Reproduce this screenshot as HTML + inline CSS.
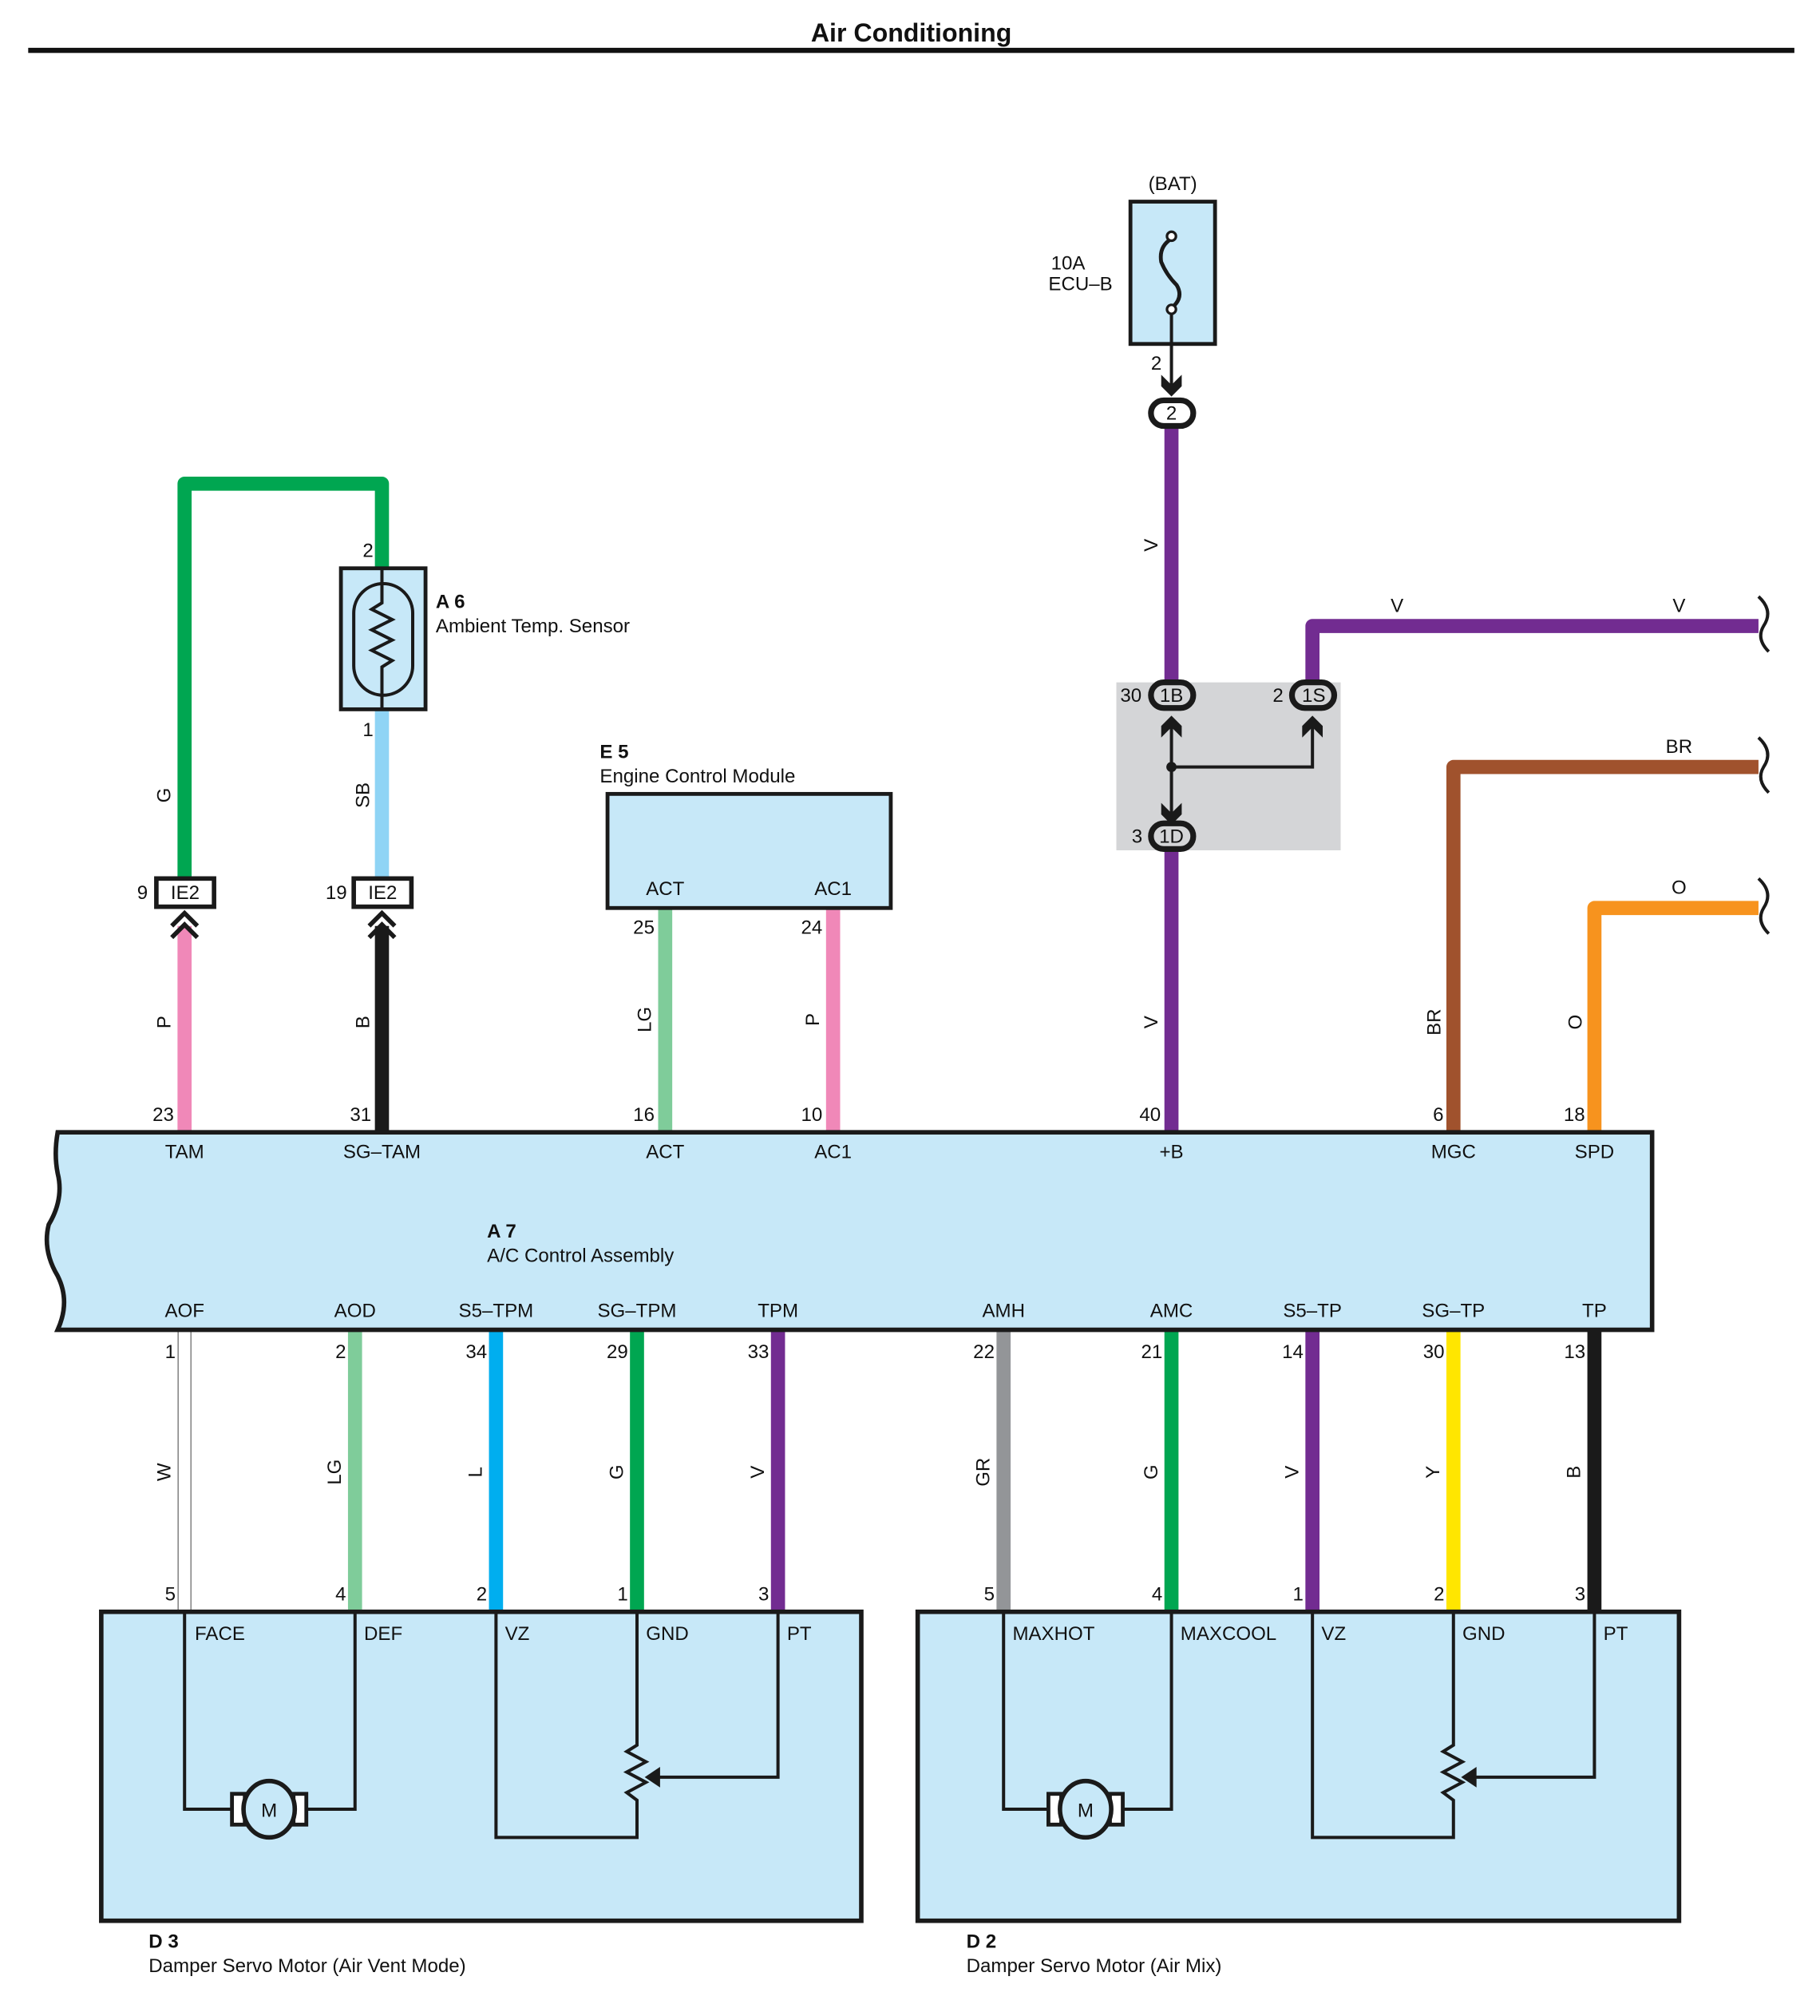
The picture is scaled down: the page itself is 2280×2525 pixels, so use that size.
<!DOCTYPE html>
<html><head><meta charset="utf-8"><style>
html,body{margin:0;padding:0;background:#fff}
svg{display:block}
text{font-family:"Liberation Sans",sans-serif;font-size:15px;fill:#111}
.b{font-weight:bold}
</style></head><body>
<svg width="2280" height="2525" viewBox="0 0 1420 1572" xmlns="http://www.w3.org/2000/svg">
<text x="711" y="32" text-anchor="middle" class="b" style="font-size:20px">Air Conditioning</text>
<rect x="22" y="37" width="1378" height="4" fill="#111"/>

<!-- upper left wires -->
<path d="M144 688 V377 H298 V443" fill="none" stroke="#00a651" stroke-width="11" stroke-linejoin="round"/>
<line x1="298" y1="553" x2="298" y2="688" stroke="#8fd4f5" stroke-width="11"/>
<line x1="144" y1="722" x2="144" y2="884" stroke="#f088b8" stroke-width="11"/>
<line x1="298" y1="722" x2="298" y2="884" stroke="#1a1a1a" stroke-width="11"/>
<!-- sensor -->
<rect x="266" y="443" width="66" height="110" fill="#c7e8f8" stroke="#1a1a1a" stroke-width="3"/>
<rect x="276" y="455" width="46" height="87" rx="23" fill="none" stroke="#1a1a1a" stroke-width="2.5"/>
<path d="M298 443 V470 L290 475 L306 483 L290 491 L306 499 L290 507 L306 515 L298 520 V553" fill="none" stroke="#1a1a1a" stroke-width="2.5"/>
<text x="283" y="434">2</text><text x="283" y="574">1</text>
<text x="340" y="474" class="b">A 6</text><text x="340" y="493">Ambient Temp.  Sensor</text>
<!-- IE2 connectors -->
<rect x="122" y="685" width="45" height="22" fill="#fff" stroke="#1a1a1a" stroke-width="3.5"/>
<text x="144.5" y="701" text-anchor="middle">IE2</text><text x="107" y="701">9</text>
<rect x="276" y="685" width="45" height="22" fill="#fff" stroke="#1a1a1a" stroke-width="3.5"/>
<text x="298.5" y="701" text-anchor="middle">IE2</text><text x="254" y="701">19</text>
<path d="M134 722 L144 712 L154 722 M134 731 L144 721 L154 731" fill="none" stroke="#1a1a1a" stroke-width="3.5"/>
<path d="M288 722 L298 712 L308 722 M288 731 L298 721 L308 731" fill="none" stroke="#1a1a1a" stroke-width="3.5"/>
<g text-anchor="middle">
<text transform="translate(133,620) rotate(-90)">G</text>
<text transform="translate(288,620) rotate(-90)">SB</text>
<text transform="translate(133,797) rotate(-90)">P</text>
<text transform="translate(288,797) rotate(-90)">B</text>
</g>
<text x="119" y="874">23</text><text x="273" y="874">31</text>

<!-- ECM -->
<line x1="519" y1="708" x2="519" y2="884" stroke="#7fcc9a" stroke-width="11"/>
<line x1="650" y1="708" x2="650" y2="884" stroke="#f088b8" stroke-width="11"/>
<rect x="474" y="619" width="221" height="89" fill="#c7e8f8" stroke="#1a1a1a" stroke-width="3"/>
<text x="468" y="591" class="b">E 5</text><text x="468" y="610">Engine Control Module</text>
<text x="519" y="698" text-anchor="middle">ACT</text><text x="650" y="698" text-anchor="middle">AC1</text>
<text x="494" y="728">25</text><text x="625" y="728">24</text>
<text x="494" y="874">16</text><text x="625" y="874">10</text>
<text transform="translate(508,795) rotate(-90)" text-anchor="middle">LG</text>
<text transform="translate(639,795) rotate(-90)" text-anchor="middle">P</text>

<!-- BAT -->
<rect x="871" y="532" width="175" height="131" fill="#d4d5d7"/>
<line x1="914" y1="332" x2="914" y2="532" stroke="#722c91" stroke-width="11"/>
<line x1="914" y1="662" x2="914" y2="884" stroke="#722c91" stroke-width="11"/>
<path d="M1024 532 V488 H1372" fill="none" stroke="#722c91" stroke-width="11" stroke-linejoin="round"/>
<path d="M1134 884 V598 H1372" fill="none" stroke="#a0522d" stroke-width="11" stroke-linejoin="round"/>
<path d="M1244 884 V708 H1372" fill="none" stroke="#f7931e" stroke-width="11" stroke-linejoin="round"/>
<g fill="none" stroke="#1a1a1a" stroke-width="2.5">
<path d="M1372 465 Q1384 476 1376 488 Q1370 498 1380 508"/>
<path d="M1372 575 Q1384 586 1376 598 Q1370 608 1380 618"/>
<path d="M1372 685 Q1384 696 1376 708 Q1370 718 1380 728"/>
</g>
<rect x="882" y="157" width="66" height="111" fill="#c7e8f8" stroke="#1a1a1a" stroke-width="3"/>
<path d="M914 186 Q904 192 906 204 Q910 214 918 222 Q924 232 914 240" fill="none" stroke="#1a1a1a" stroke-width="3"/>
<circle cx="914" cy="184" r="3.5" fill="#fff" stroke="#1a1a1a" stroke-width="2"/>
<circle cx="914" cy="241" r="3.5" fill="#fff" stroke="#1a1a1a" stroke-width="2"/>
<line x1="914" y1="244" x2="914" y2="300" stroke="#1a1a1a" stroke-width="2.5"/>
<path d="M906 292 L914 300 L922 292 L922 301 L914 309 L906 301Z" fill="#1a1a1a"/>
<text x="915" y="148" text-anchor="middle">(BAT)</text>
<text x="820" y="210">10A</text><text x="818" y="226">ECU–B</text>
<text x="898" y="288">2</text>
<g stroke="#1a1a1a" stroke-width="4.5" fill="#fff">
<rect x="898" y="312" width="33" height="20" rx="10"/>
</g>
<text x="914" y="327" text-anchor="middle">2</text>
<g stroke="#1a1a1a" stroke-width="4.5" fill="#d4d5d7">
<rect x="898" y="532" width="33" height="20" rx="10"/>
<rect x="1008" y="532" width="33" height="20" rx="10"/>
<rect x="898" y="642" width="33" height="20" rx="10"/>
</g>
<text x="914" y="547" text-anchor="middle">1B</text>
<text x="1025" y="547" text-anchor="middle">1S</text>
<text x="914" y="657" text-anchor="middle">1D</text>
<text x="874" y="547">30</text><text x="993" y="547">2</text><text x="883" y="657">3</text>
<path d="M914 565 V634 M914 598 H1024 V565" fill="none" stroke="#1a1a1a" stroke-width="2.5"/>
<circle cx="914" cy="598" r="4" fill="#1a1a1a"/>
<path d="M906 566 L914 558 L922 566 L922 575 L914 567 L906 575Z" fill="#1a1a1a"/>
<path d="M1016 566 L1024 558 L1032 566 L1032 575 L1024 567 L1016 575Z" fill="#1a1a1a"/>
<path d="M906 626 L914 634 L922 626 L922 635 L914 643 L906 635Z" fill="#1a1a1a"/>
<text x="1090" y="477" text-anchor="middle">V</text><text x="1310" y="477" text-anchor="middle">V</text>
<text x="1310" y="587" text-anchor="middle">BR</text><text x="1310" y="697" text-anchor="middle">O</text>
<g text-anchor="middle">
<text transform="translate(903,425) rotate(-90)">V</text>
<text transform="translate(903,797) rotate(-90)">V</text>
<text transform="translate(1124,797) rotate(-90)">BR</text>
<text transform="translate(1234,797) rotate(-90)">O</text>
</g>
<text x="889" y="874">40</text><text x="1118" y="874">6</text><text x="1220" y="874">18</text>

<!-- lower wires -->
<line x1="144" y1="1037" x2="144" y2="1258" stroke="#888" stroke-width="11"/>
<line x1="144" y1="1037" x2="144" y2="1258" stroke="#fff" stroke-width="9"/>
<line x1="277" y1="1037" x2="277" y2="1258" stroke="#7fcc9a" stroke-width="11"/>
<line x1="387" y1="1037" x2="387" y2="1258" stroke="#00aeef" stroke-width="11"/>
<line x1="497" y1="1037" x2="497" y2="1258" stroke="#00a651" stroke-width="11"/>
<line x1="607" y1="1037" x2="607" y2="1258" stroke="#722c91" stroke-width="11"/>
<line x1="783" y1="1037" x2="783" y2="1258" stroke="#939598" stroke-width="11"/>
<line x1="914" y1="1037" x2="914" y2="1258" stroke="#00a651" stroke-width="11"/>
<line x1="1024" y1="1037" x2="1024" y2="1258" stroke="#722c91" stroke-width="11"/>
<line x1="1134" y1="1037" x2="1134" y2="1258" stroke="#ffe600" stroke-width="11"/>
<line x1="1244" y1="1037" x2="1244" y2="1258" stroke="#1a1a1a" stroke-width="11"/>
<g text-anchor="end">
<text x="137" y="1059">1</text><text x="270" y="1059">2</text><text x="380" y="1059">34</text><text x="490" y="1059">29</text><text x="600" y="1059">33</text>
<text x="776" y="1059">22</text><text x="907" y="1059">21</text><text x="1017" y="1059">14</text><text x="1127" y="1059">30</text><text x="1237" y="1059">13</text>
<text x="137" y="1248">5</text><text x="270" y="1248">4</text><text x="380" y="1248">2</text><text x="490" y="1248">1</text><text x="600" y="1248">3</text>
<text x="776" y="1248">5</text><text x="907" y="1248">4</text><text x="1017" y="1248">1</text><text x="1127" y="1248">2</text><text x="1237" y="1248">3</text>
</g>
<g text-anchor="middle">
<text transform="translate(133,1148) rotate(-90)">W</text>
<text transform="translate(266,1148) rotate(-90)">LG</text>
<text transform="translate(376,1148) rotate(-90)">L</text>
<text transform="translate(486,1148) rotate(-90)">G</text>
<text transform="translate(596,1148) rotate(-90)">V</text>
<text transform="translate(772,1148) rotate(-90)">GR</text>
<text transform="translate(903,1148) rotate(-90)">G</text>
<text transform="translate(1013,1148) rotate(-90)">V</text>
<text transform="translate(1123,1148) rotate(-90)">Y</text>
<text transform="translate(1233,1148) rotate(-90)">B</text>
</g>

<!-- A7 -->
<path d="M45 883 H1289 V1037 H45 Q55 1015 45 995 Q33 975 38 955 Q50 935 45 915 Q42 900 45 883Z" fill="#c7e8f8" stroke="#1a1a1a" stroke-width="3.5"/>
<g text-anchor="middle">
<text x="144" y="903">TAM</text><text x="298" y="903">SG–TAM</text><text x="519" y="903">ACT</text><text x="650" y="903">AC1</text>
<text x="914" y="903">+B</text><text x="1134" y="903">MGC</text><text x="1244" y="903">SPD</text>
<text x="144" y="1027">AOF</text><text x="277" y="1027">AOD</text><text x="387" y="1027">S5–TPM</text><text x="497" y="1027">SG–TPM</text><text x="607" y="1027">TPM</text>
<text x="783" y="1027">AMH</text><text x="914" y="1027">AMC</text><text x="1024" y="1027">S5–TP</text><text x="1134" y="1027">SG–TP</text><text x="1244" y="1027">TP</text>
</g>
<text x="380" y="965" class="b">A 7</text><text x="380" y="984">A/C Control Assembly</text>

<!-- servos -->
<g id="servo">
<rect x="79" y="1257" width="593" height="241" fill="#c7e8f8" stroke="#1a1a1a" stroke-width="3.5"/>
<g fill="none" stroke="#1a1a1a" stroke-width="2.5">
<path d="M144 1257 V1411 H183 M237 1411 H277 V1257"/>
<path d="M387 1257 V1433 H497 V1404 L489 1398 L504 1390 L489 1382 L504 1374 L489 1366 L497 1361 V1257"/>
<path d="M607 1257 V1386 H512"/>
</g>
<path d="M503 1386 L515 1378 L515 1394Z" fill="#1a1a1a"/>
<rect x="181" y="1399" width="10" height="24" fill="#fff" stroke="#1a1a1a" stroke-width="3"/>
<rect x="229" y="1399" width="10" height="24" fill="#fff" stroke="#1a1a1a" stroke-width="3"/>
<ellipse cx="210" cy="1411" rx="20" ry="22" fill="#c7e8f8" stroke="#1a1a1a" stroke-width="3.5"/>
<text x="210" y="1417" text-anchor="middle">M</text>
</g>
<g transform="translate(637,0)">
<rect x="79" y="1257" width="594" height="241" fill="#c7e8f8" stroke="#1a1a1a" stroke-width="3.5"/>
<g fill="none" stroke="#1a1a1a" stroke-width="2.5">
<path d="M146 1257 V1411 H183 M237 1411 H277 V1257"/>
<path d="M387 1257 V1433 H497 V1404 L489 1398 L504 1390 L489 1382 L504 1374 L489 1366 L497 1361 V1257"/>
<path d="M607 1257 V1386 H512"/>
</g>
<path d="M503 1386 L515 1378 L515 1394Z" fill="#1a1a1a"/>
<rect x="181" y="1399" width="10" height="24" fill="#fff" stroke="#1a1a1a" stroke-width="3"/>
<rect x="229" y="1399" width="10" height="24" fill="#fff" stroke="#1a1a1a" stroke-width="3"/>
<ellipse cx="210" cy="1411" rx="20" ry="22" fill="#c7e8f8" stroke="#1a1a1a" stroke-width="3.5"/>
<text x="210" y="1417" text-anchor="middle">M</text>
</g>
<text x="152" y="1279">FACE</text><text x="284" y="1279">DEF</text><text x="394" y="1279">VZ</text><text x="504" y="1279">GND</text><text x="614" y="1279">PT</text>
<text x="790" y="1279">MAXHOT</text><text x="921" y="1279">MAXCOOL</text><text x="1031" y="1279">VZ</text><text x="1141" y="1279">GND</text><text x="1251" y="1279">PT</text>
<text x="116" y="1519" class="b">D 3</text><text x="116" y="1538">Damper Servo Motor (Air Vent Mode)</text>
<text x="754" y="1519" class="b">D 2</text><text x="754" y="1538">Damper Servo Motor (Air Mix)</text>
</svg>
</body></html>
